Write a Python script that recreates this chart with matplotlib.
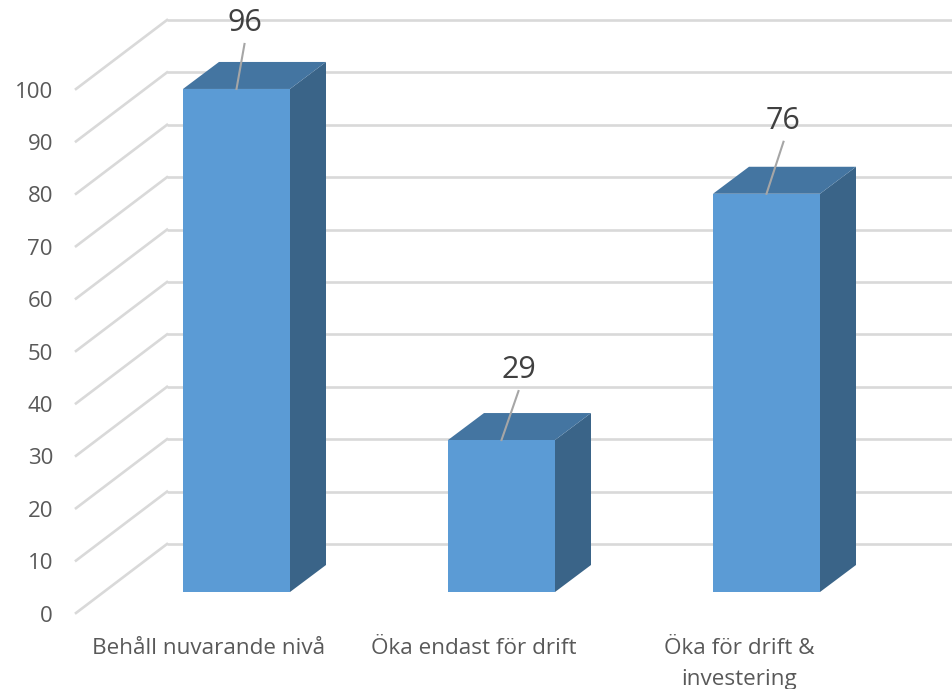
import matplotlib
matplotlib.use('Agg')
import matplotlib.pyplot as plt
from matplotlib.patches import Polygon

categories = ['Behåll nuvarande nivå', 'Öka endast för drift', 'Öka för drift &\ninvestering']
values = [96, 29, 76]
y_ticks = [0, 10, 20, 30, 40, 50, 60, 70, 80, 90, 100]

plt.rcParams['font.family'] = ['Open Sans', 'DejaVu Sans']

W, H = 952, 689
PX_PER_UNIT = 5.24   # one value unit in pixels
PX_PER_CAT = 265     # distance between bars
BACK_ZERO = 544      # pixel row of value 0 on the back wall
CAT0_PX = 236.5      # pixel column of first bar centre


def dx(px):
    return px / PX_PER_CAT


def dy(px):
    return px / PX_PER_UNIT


fig = plt.figure(figsize=(W / 100, H / 100), dpi=100)
ax = fig.add_axes([0, 0, 1, 1])
ax.set_xlim(dx(-CAT0_PX), dx(W - CAT0_PX))
ax.set_ylim(dy(BACK_ZERO - H), dy(BACK_ZERO))
ax.axis('off')

# back wall starts here, side lines come forward and down to the labels
wall_left = dx(167 - CAT0_PX)
floor_left = dx(76 - CAT0_PX)
floor_drop = dy(69)
grid_color = '#d9d9d9'

for t in y_ticks:
    ax.plot([wall_left, ax.get_xlim()[1]], [t, t], color=grid_color, lw=1.9, zorder=1, solid_capstyle='butt')
    ax.plot([floor_left, wall_left], [t - floor_drop, t], color=grid_color, lw=1.9, zorder=1)
    ax.text(dx(53 - CAT0_PX), t - floor_drop - dy(3), str(t), ha='right', va='center', fontsize=16, color='#595959')

# bars sit inside the floor, front face is 48px below the wall and the box is 27px deep
front_drop = dy(48)
bar_w = dx(107)
depth_x = dx(36)
depth_y = dy(27)
front = '#5b9bd5'
top = '#4475a1'
side = '#3a6488'

leader_dx = [8, 17, 17]
leader_dy = [45, 49, 52]

for i, v in enumerate(values):
    x0 = i - bar_w / 2
    x1 = i + bar_w / 2
    y0 = -front_drop
    y1 = v - front_drop
    ax.add_patch(Polygon([(x1, y0), (x1 + depth_x, y0 + depth_y), (x1 + depth_x, y1 + depth_y), (x1, y1)],
                         facecolor=side, edgecolor='none', zorder=3))
    ax.add_patch(Polygon([(x0, y1), (x0 + depth_x, y1 + depth_y), (x1 + depth_x, y1 + depth_y), (x1, y1)],
                         facecolor=top, edgecolor='none', zorder=3))
    ax.add_patch(Polygon([(x0, y0), (x1, y0), (x1, y1), (x0, y1)], facecolor=front, edgecolor='none', zorder=4))

    lx = i + dx(leader_dx[i])
    ly = y1 + dy(leader_dy[i])
    ax.plot([i, lx], [y1, ly], color='#a6a6a6', lw=1.5, zorder=5)
    ax.text(lx, ly + dy(6), str(v), ha='center', va='bottom', fontsize=22, color='#404040', zorder=6)

    ax.text(i - dx(27.5), dy(BACK_ZERO - 638), categories[i], ha='center', va='top', fontsize=16.2,
            color='#595959', linespacing=1.62)

fig.savefig('out.png', dpi=100)
